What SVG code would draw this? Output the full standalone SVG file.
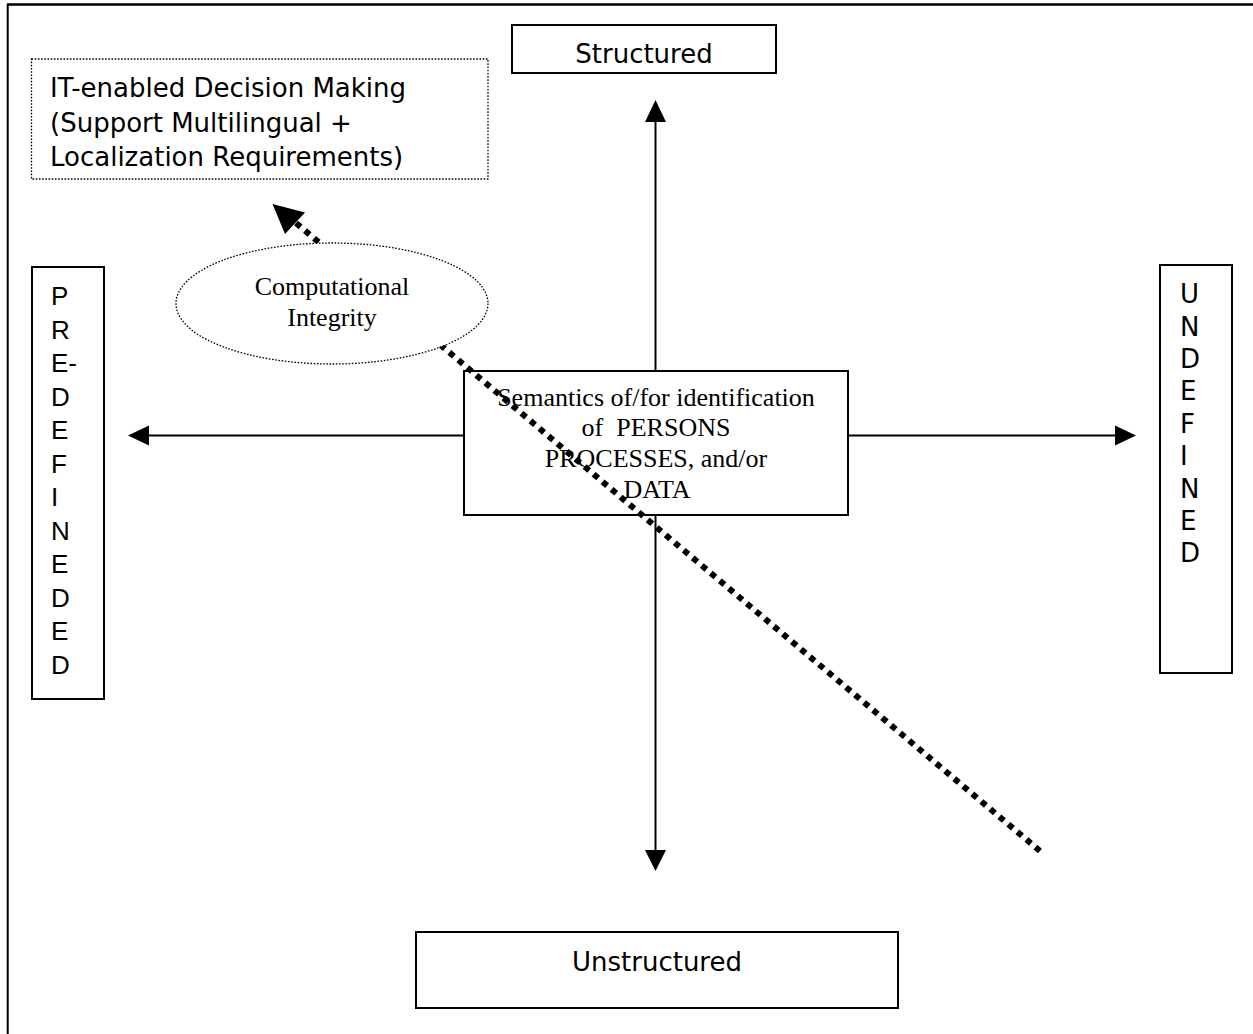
<svg xmlns="http://www.w3.org/2000/svg" width="1253" height="1034" viewBox="0 0 1253 1034">
<style>
.box{fill:#fff;stroke:#000;stroke-width:2}
.dotbox{fill:#fff;stroke:#000;stroke-width:1.3;stroke-dasharray:1.6 1.6}
.axis{stroke:#000;stroke-width:2;fill:none}
.head{fill:#000;stroke:none}
.sans{font-family:"DejaVu Sans",Verdana,sans-serif;font-size:26px;fill:#000}
.arial{font-family:"Liberation Sans",Arial,sans-serif;font-size:26px;fill:#000}
.serif{font-family:"Liberation Serif","Times New Roman",serif;font-size:26px;fill:#000}
.mid{text-anchor:middle}
</style>
<rect width="1253" height="1034" fill="#fff"/>
<g id="frame">
<line x1="7" y1="4.5" x2="1253" y2="4.5" stroke="#000" stroke-width="2.3"/>
<line x1="7.7" y1="4" x2="7.7" y2="1034" stroke="#000" stroke-width="2"/>
</g>
<g id="connectors">
<line class="axis" x1="655.5" y1="118" x2="655.5" y2="854"/>
<polygon class="head" points="655.5,100 645,122 666,122"/>
<polygon class="head" points="655.5,871 645,850 666,850"/>
<line class="axis" x1="145" y1="435.5" x2="1120" y2="435.5"/>
<polygon class="head" points="128,435.5 149,425.5 149,445.5"/>
<polygon class="head" points="1136,435.5 1115,425.5 1115,445.5"/>
</g>
<g id="node-structured">
<rect class="box" x="512" y="25" width="264" height="48"/>
<text class="sans mid" x="644" y="63">Structured</text>
</g>
<g id="node-unstructured">
<rect class="box" x="416" y="932" width="482" height="76"/>
<text class="sans mid" x="657" y="971">Unstructured</text>
</g>
<g id="node-it">
<rect class="dotbox" x="31.5" y="59" width="456.5" height="120"/>
<text class="sans" x="50" y="97">IT-enabled Decision Making</text>
<text class="sans" x="50" y="131.5">(Support Multilingual +</text>
<text class="sans" x="50" y="166">Localization Requirements)</text>
</g>
<g id="node-predefined">
<rect class="box" x="32" y="267" width="72" height="432"/>
<text class="arial" x="51">
<tspan x="51" y="305">P</tspan>
<tspan x="51" y="338.5">R</tspan>
<tspan x="51" y="372">E-</tspan>
<tspan x="51" y="405.5">D</tspan>
<tspan x="51" y="439">E</tspan>
<tspan x="51" y="472.5">F</tspan>
<tspan x="51" y="506">I</tspan>
<tspan x="51" y="539.5">N</tspan>
<tspan x="51" y="573">E</tspan>
<tspan x="51" y="606.5">D</tspan>
<tspan x="51" y="640">E</tspan>
<tspan x="51" y="673.5">D</tspan>
</text>
</g>
<g id="node-undefined">
<rect class="box" x="1160" y="265" width="72" height="408"/>
<text class="sans" x="1180">
<tspan x="1180" y="303">U</tspan>
<tspan x="1180" y="335.5">N</tspan>
<tspan x="1180" y="368">D</tspan>
<tspan x="1180" y="400">E</tspan>
<tspan x="1180" y="432.5">F</tspan>
<tspan x="1180" y="465">I</tspan>
<tspan x="1180" y="497.5">N</tspan>
<tspan x="1180" y="530">E</tspan>
<tspan x="1180" y="562">D</tspan>
</text>
</g>
<g id="node-semantics">
<rect class="box" x="464" y="371" width="384" height="144"/>
<text class="serif mid" x="656" y="405.5">Semantics of/for identification</text>
<text class="serif mid" x="656" y="436" xml:space="preserve">of  PERSONS</text>
<text class="serif mid" x="656" y="467">PROCESSES, and/or</text>
<text class="serif mid" x="657" y="498">DATA</text>
</g>
<g id="connector-dotted">
<line x1="1040" y1="851" x2="296" y2="223" stroke="#000" stroke-width="6" stroke-dasharray="6 5.8"/>
<polygon class="head" points="272.5,204 305,212.5 285,234"/>
</g>
<g id="node-computational">
<ellipse cx="332" cy="303.5" rx="156" ry="60.5" fill="#fff" stroke="#000" stroke-width="1.3" stroke-dasharray="1.6 1.6"/>
<text class="serif mid" x="332" y="295">Computational</text>
<text class="serif mid" x="332" y="325.5">Integrity</text>
</g>
</svg>
